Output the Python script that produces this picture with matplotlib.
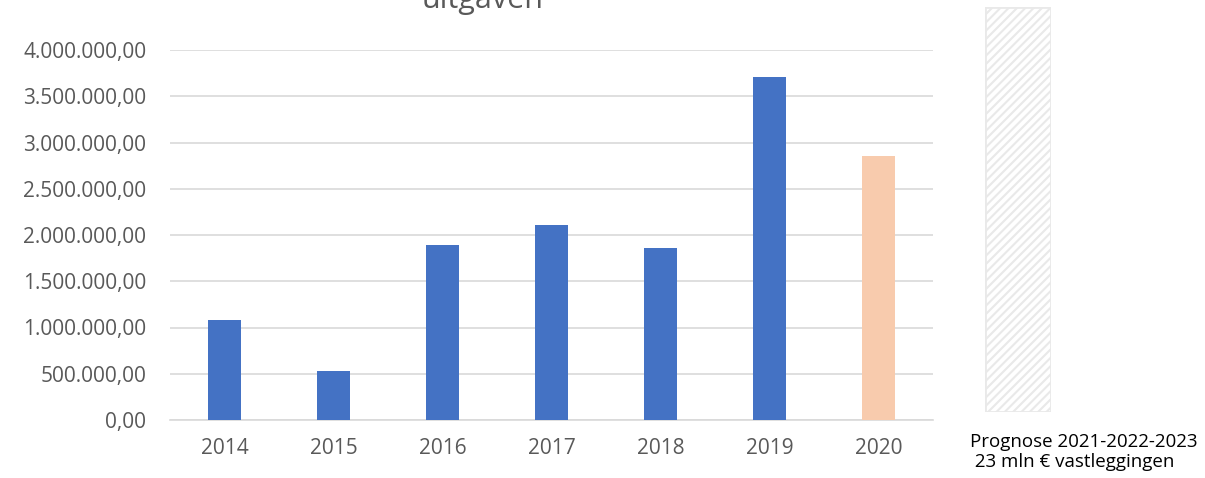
import matplotlib.pyplot as plt
from matplotlib.ticker import FuncFormatter

jaren = ['2014', '2015', '2016', '2017', '2018', '2019', '2020']
uitgaven = [1081000, 530000, 1890000, 2108000, 1860000, 3708000, 2854000]
kleuren = ['#4472C4'] * 6 + ['#F8CBAD']
prognose_tekst = 'Prognose 2021-2022-2023\n 23 mln € vastleggingen'

plt.rcParams['font.family'] = ['Open Sans', 'DejaVu Sans']
plt.rcParams['hatch.color'] = '#E6E6E6'
plt.rcParams['hatch.linewidth'] = 1.5

fig = plt.figure(figsize=(12.05, 4.78), dpi=100)
W, H = 1205, 478

ax = fig.add_axes([170 / W, 1 - 420 / H, (933 - 170) / W, (420 - 50) / H])
x = range(len(jaren))
ax.bar(x, uitgaven, width=0.31, color=kleuren, zorder=3)
ax.set_xlim(-0.5, len(jaren) - 0.5)
ax.set_ylim(0, 4000000)
ax.set_yticks(range(0, 4000001, 500000))


def nl_format(v, pos):
    s = f"{v:,.2f}"
    return s.replace(',', 'X').replace('.', ',').replace('X', '.')


ax.yaxis.set_major_formatter(FuncFormatter(nl_format))
ax.set_xticks(list(x))
ax.set_xticklabels(jaren)
ax.grid(axis='y', color='#D9D9D9', linewidth=1.2, zorder=0)
for s in ['top', 'right', 'left']:
    ax.spines[s].set_visible(False)
ax.spines['bottom'].set_color('#D9D9D9')
ax.spines['bottom'].set_linewidth(1.2)
ax.tick_params(axis='both', length=0, labelsize=15, colors='#595959')
ax.tick_params(axis='y', pad=17)
ax.tick_params(axis='x', pad=13)

fig.text(483 / W, 1 - 8 / H, 'uitgaven', ha='center', va='baseline',
         fontsize=22, color='#595959')

# gearceerde prognose-balk
ax2 = fig.add_axes([985 / W, 1 - 412 / H, (1051 - 985) / W, (412 - 7) / H])
ax2.bar([0], [1], width=1, facecolor='white', edgecolor='#E9E9E9',
        hatch='////', linewidth=2)
ax2.set_xlim(-0.5, 0.5)
ax2.set_ylim(0, 1)
ax2.axis('off')

fig.text(970 / W, 1 - 452 / H, prognose_tekst, ha='left', va='center',
         fontsize=13.5, color='black', linespacing=1.2)

fig.savefig('out.png', dpi=100)
